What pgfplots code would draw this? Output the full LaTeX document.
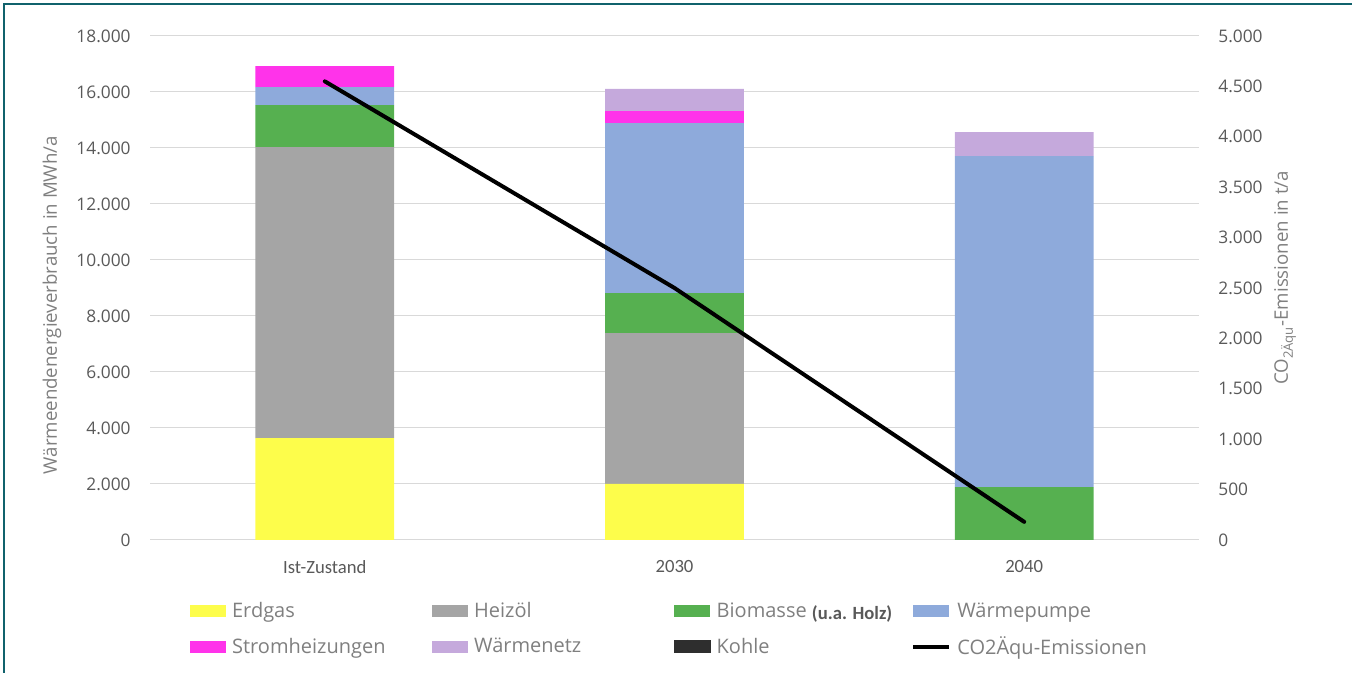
\documentclass[border=0pt]{standalone}
\usepackage{pgfplots}
\pgfplotsset{compat=1.18}
\usepackage{fontspec}
\setmainfont{Open Sans}
\newfontfamily\calibri{Carlito}
\definecolor{erdgas}{HTML}{FDFD4B}
\definecolor{heizoel}{HTML}{A5A5A5}
\definecolor{biomasse}{HTML}{56B050}
\definecolor{waermepumpe}{HTML}{8EAADB}
\definecolor{strom}{HTML}{FF33EA}
\definecolor{waermenetz}{HTML}{C5A9DC}
\definecolor{kohle}{HTML}{2E2E2E}
\definecolor{frame}{HTML}{10626C}
\definecolor{tickgray}{HTML}{595959}
\definecolor{labelgray}{HTML}{7F7F7F}
\definecolor{gridgray}{HTML}{D9D9D9}
\pgfplotsset{
  mybar/.style={draw=none, fill=#1,
    legend image code/.code={\fill[##1] (0pt,-4.5pt) rectangle (27pt,4.5pt);}},
}
\begin{document}
\begin{tikzpicture}
\useasboundingbox (0,0) rectangle (1014pt,504.75pt);
\draw[frame, line width=1.6pt] (3pt,0) -- (3pt,501.75pt) -- (1014pt,501.75pt);
\begin{axis}[
  at={(112.5pt,99.75pt)}, anchor=south west,
  scale only axis, width=786.75pt, height=378pt,
  ybar stacked, bar width=0.397,
  xmin=-0.5, xmax=2.5, ymin=0, ymax=18000,
  xtick={0,1,2}, xticklabels={Ist-Zustand,2030,2040},
  ytick distance=2000,
  scaled y ticks=false,
  /pgf/number format/.cd, 1000 sep={.}, assume math mode=true, /pgfplots/.cd,
  ymajorgrids, grid style={gridgray, line width=0.75pt},
  axis line style={draw=none},
  tick style={draw=none},
  major tick length=0pt,
  yticklabel style={font=\fontsize{13}{15}\selectfont, text=tickgray, xshift=-11pt},
  xticklabel style={font=\calibri\fontsize{14}{16}\selectfont, text=tickgray, yshift=-12pt},
  ylabel={Wärmeendenergieverbrauch in MWh/a},
  ylabel style={font=\fontsize{14}{16}\selectfont, text=labelgray, at={(axis description cs:-0.0934,0.466)}, anchor=center},
  legend columns=4,
  legend cell align=left,
  legend style={draw=none, fill=none, at={(axis description cs:0.038,-0.123)}, anchor=north west,
    font=\fontsize{15}{17}\selectfont, text=labelgray, inner sep=0pt, row sep=13pt,
    nodes={inner sep=0pt},
    /tikz/every odd column/.append style={column sep=4.5pt}},
]
\addplot[mybar=erdgas] coordinates {(0,3640) (1,2000) (2,0)};
\addplot[mybar=heizoel] coordinates {(0,10390) (1,5390) (2,0)};
\addplot[mybar=biomasse] coordinates {(0,1500) (1,1430) (2,1890)};
\addplot[mybar=waermepumpe] coordinates {(0,640) (1,6070) (2,11820)};
\addplot[mybar=strom] coordinates {(0,750) (1,430) (2,0)};
\addplot[mybar=waermenetz] coordinates {(0,0) (1,790) (2,860)};
\addlegendentry{\makebox[150pt][l]{Erdgas}}
\addlegendentry{\makebox[150pt][l]{Heizöl}}
\addlegendentry{\makebox[146pt][l]{Biomasse {\raisebox{-2pt}{\calibri\bfseries\fontsize{14}{16}\selectfont\color{tickgray}(u.a. Holz)}}}}
\addlegendentry{\makebox[150pt][l]{Wärmepumpe}}
\addlegendentry{\makebox[150pt][l]{Stromheizungen}}
\addlegendentry{\makebox[150pt][l]{Wärmenetz}}
\addlegendimage{legend image code/.code={\fill[kohle] (0pt,-4.5pt) rectangle (27pt,4.5pt);}}
\addlegendentry{\makebox[146pt][l]{Kohle}}
\addlegendimage{legend image code/.code={\draw[black, line width=3pt] (0pt,0pt) -- (27pt,0pt);}}
\addlegendentry{\makebox[150pt][l]{CO2Äqu-Emissionen}}
\end{axis}
\begin{axis}[
  at={(112.5pt,99.75pt)}, anchor=south west,
  scale only axis, width=786.75pt, height=378pt,
  xmin=-0.5, xmax=2.5, ymin=0, ymax=5000,
  axis x line=none,
  axis y line*=right,
  axis line style={draw=none},
  tick style={draw=none},
  major tick length=0pt,
  ytick distance=500,
  scaled y ticks=false,
  /pgf/number format/.cd, 1000 sep={.}, assume math mode=true, /pgfplots/.cd,
  yticklabel style={font=\fontsize{13}{15}\selectfont, text=tickgray, xshift=11pt},
  ylabel={CO\textsubscript{2Äqu}-Emissionen in t/a},
  ylabel style={font=\fontsize{14}{16}\selectfont, text=labelgray, at={(axis description cs:1.082,0.52)}, anchor=center},
]
\addplot[black, line width=3pt, line cap=round, mark=none] coordinates {(0,4550) (1,2500) (2,180)};
\end{axis}
\end{tikzpicture}
\end{document}
